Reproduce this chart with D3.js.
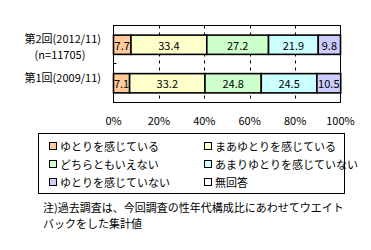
<!DOCTYPE html>
<html><head><meta charset="utf-8">
<script src="https://cdn.jsdelivr.net/npm/d3@7"></script>
<style>
body{margin:0;background:#fff;}
text{font-family:"Noto Sans CJK JP",sans-serif;font-size:11px;fill:#000;}
</style></head>
<body>
<svg id="chart" width="371" height="250"></svg>
<script>
// Survey rounds (top to bottom)
const rounds = ["第2回(2012/11)", "第1回(2009/11)"];
const roundSub = ["(n=11705)", ""];
// Response categories
const categories = ["ゆとりを感じている", "まあゆとりを感じている", "どちらともいえない", "あまりゆとりを感じていない", "ゆとりを感じていない", "無回答"];
const colors = ["#FFCC99", "#FFFFCC", "#CCFFCC", "#CCFFFF", "#CCCCFF", "#FFFFFF"];
// Percentages per round, in category order
const values2012 = [7.7, 33.4, 27.2, 21.9, 9.8, 0];
const values2009 = [7.1, 33.2, 24.8, 24.5, 10.5, 0];
const series = [values2012, values2009];
const ticks = [0, 20, 40, 60, 80, 100];
const note = ["注)過去調査は、今回調査の性年代構成比にあわせてウエイト", "バックをした集計値"];

const svg = d3.select("#chart");
const plot = {left: 113.5, right: 340.5, top: 25.5, bottom: 102.5};

const x = d3.scaleLinear().domain([0, 100]).range([plot.left, plot.right]);
const y = d3.scaleBand().domain(rounds).range([plot.top, plot.bottom]).paddingInner(0.5).paddingOuter(0.25);

// plot frame
svg.append("rect").attr("x", plot.left).attr("y", plot.top)
  .attr("width", plot.right - plot.left).attr("height", plot.bottom - plot.top)
  .attr("fill", "none").attr("stroke", "#000").attr("stroke-width", 1);

// dashed gridlines
svg.append("g").selectAll("line").data(ticks.slice(1, -1)).join("line")
  .attr("x1", d => Math.round(x(d)) + 0.5).attr("x2", d => Math.round(x(d)) + 0.5)
  .attr("y1", plot.top).attr("y2", plot.bottom)
  .attr("stroke", "#000").attr("stroke-dasharray", "3,4");

// category separator tick on the value axis
svg.append("line").attr("x1", plot.left).attr("x2", plot.left + 3)
  .attr("y1", 63.5).attr("y2", 63.5).attr("stroke", "#000");

// stacked bars
rounds.forEach((r, i) => {
  let acc = 0;
  const segs = series[i].map((v, k) => { const s = {k, v, x0: acc, x1: acc + v}; acc += v; return s; })
    .filter(s => s.v > 0);
  const g = svg.append("g");
  g.selectAll("rect").data(segs).join("rect")
    .attr("x", d => x(d.x0)).attr("width", d => x(d.x1) - x(d.x0))
    .attr("y", y(r)).attr("height", y.bandwidth())
    .attr("fill", d => colors[d.k]).attr("stroke", "#000").attr("stroke-width", 1.6);
  g.selectAll("text").data(segs).join("text")
    .attr("x", d => (x(d.x0) + x(d.x1)) / 2).attr("y", y(r) + y.bandwidth() / 2)
    .attr("text-anchor", "middle").attr("dominant-baseline", "central")
    .text(d => d.v.toFixed(1));
});

// round labels
svg.append("g").selectAll("text").data(rounds).join("text")
  .attr("x", 101).attr("y", d => y(d) + 3).attr("text-anchor", "end")
  .attr("dominant-baseline", "central").attr("font-size", "12px").text(d => d);
svg.append("g").selectAll("text").data(roundSub.filter(s => s)).join("text")
  .attr("x", 60).attr("y", y(rounds[0]) + 19).attr("text-anchor", "middle")
  .attr("dominant-baseline", "central").attr("font-size", "12px").text(d => d);

// x axis labels
svg.append("g").selectAll("text").data(ticks).join("text")
  .attr("x", d => x(d)).attr("y", 120).attr("text-anchor", "middle")
  .attr("dominant-baseline", "central").attr("font-size", "12px").text(d => d + "%");

// legend
const legend = svg.append("g");
legend.append("rect").attr("x", 38.5).attr("y", 133.5).attr("width", 306).attr("height", 60)
  .attr("fill", "#fff").attr("stroke", "#000");
const li = legend.selectAll("g").data(categories).join("g")
  .attr("transform", (d, i) => `translate(${i % 2 ? 204 : 49},${146 + Math.floor(i / 2) * 18})`);
li.append("rect").attr("x", 0.5).attr("y", -3.5).attr("width", 7).attr("height", 7)
  .attr("fill", (d, i) => colors[i]).attr("stroke", "#000");
li.append("text").attr("x", 11).attr("y", 0).attr("dominant-baseline", "central").text(d => d);

// footnote
svg.append("g").selectAll("text").data(note).join("text")
  .attr("x", 43).attr("y", (d, i) => 207 + i * 16).attr("dominant-baseline", "central").text(d => d);
</script>
</body></html>
